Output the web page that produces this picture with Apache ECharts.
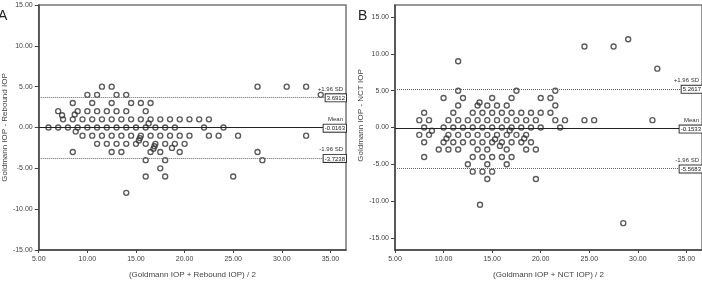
<!DOCTYPE html>
<html>
<head>
<meta charset="utf-8">
<script src="https://cdn.jsdelivr.net/npm/echarts@6/dist/echarts.min.js"></script>
<style>
html, body {margin: 0; padding: 0; background: #fff;}
#chart {width: 702px; height: 284px;}
</style>
</head>
<body>
<div id="chart"></div>
<script>
// Panel A: Goldmann vs Rebound, (mean of pair, difference)
const aMean = [
    11.5, 12.5, 27.5, 30.5, 32.5,
    10, 11, 13, 14, 34,
    8.5, 10.5, 12.5, 14.5, 15.5, 16.5,
    7, 9, 10, 11, 12, 13, 14, 16, 7.4, 8.7,
    7.5, 8.5, 9.5, 10.5, 11.5, 12.5, 13.5, 14.5, 15.5, 16.5, 17.5, 18.5, 19.5, 20.5, 21.5, 22.5, 16.3,
    6, 7, 8, 9, 10, 11, 12, 13, 14, 15, 16, 17, 18, 19, 22, 24, 8.8,
    9.5, 10.5, 11.5, 12.5, 13.5, 14.5, 15.5, 16.5, 17.5, 18.5, 19.5, 20.5, 22.5, 23.5, 25.5, 32.5,
    11, 12, 13, 14, 15, 16, 17, 18, 19, 20, 15.3, 15.4, 16.9, 16.8, 18.7,
    8.5, 12.5, 13.5, 16.5, 17.5, 19.5, 27.5,
    16, 18, 28,
    17.5,
    16, 18, 25,
    14
];
const aDiff = [
    5, 5, 5, 5, 5,
    4, 4, 4, 4, 4,
    3, 3, 3, 3, 3, 3,
    2, 2, 2, 2, 2, 2, 2, 2, 1.5, 1.6,
    1, 1, 1, 1, 1, 1, 1, 1, 1, 1, 1, 1, 1, 1, 1, 1, 0.5,
    0, 0, 0, 0, 0, 0, 0, 0, 0, 0, 0, 0, 0, 0, 0, 0, -0.5,
    -1, -1, -1, -1, -1, -1, -1, -1, -1, -1, -1, -1, -1, -1, -1, -1,
    -2, -2, -2, -2, -2, -2, -2, -2, -2, -2, -1.6, -1.3, -2.3, -2.6, -2.5,
    -3, -3, -3, -3, -3, -3, -3,
    -4, -4, -4,
    -5,
    -6, -6, -6,
    -8
];

// Panel B: Goldmann vs NCT
const bMean = [
    11.5, 24.5, 27.5, 29, 32,
    11.5, 17.5, 21.5,
    10, 12, 15, 17, 20, 21,
    11.5, 13.5, 14.5, 15.5, 16.5, 21.5, 13.7,
    8, 11, 13, 14, 15, 16, 17, 18, 19, 20, 21,
    7.5, 8.5, 10.5, 11.5, 12.5, 13.5, 14.5, 15.5, 16.5, 17.5, 18.5, 19.5, 21.5, 22.5, 24.5, 25.5, 31.5,
    8, 10, 11, 12, 13, 14, 15, 16, 17, 18, 19, 20, 22, 8.8, 16.8,
    7.5, 8.5, 10.5, 11.5, 12.5, 13.5, 14.5, 15.5, 16.5, 17.5, 18.5, 10.3, 15.3, 18.3,
    8, 10, 11, 12, 13, 14, 15, 16, 17, 18, 19, 15.8,
    9.5, 10.5, 11.5, 13.5, 14.5, 16.5, 18.5, 19.5,
    8, 13, 14, 15, 16, 17,
    12.5, 14.5, 16.5,
    13, 14, 15,
    14.5, 19.5,
    13.75, 28.5
];
const bDiff = [
    9, 11, 11, 12, 8,
    5, 5, 5,
    4, 4, 4, 4, 4, 4,
    3, 3, 3, 3, 3, 3, 3.4,
    2, 2, 2, 2, 2, 2, 2, 2, 2, 2, 2,
    1, 1, 1, 1, 1, 1, 1, 1, 1, 1, 1, 1, 1, 1, 1, 1, 1,
    0, 0, 0, 0, 0, 0, 0, 0, 0, 0, 0, 0, 0, -0.45, -0.4,
    -1, -1, -1, -1, -1, -1, -1, -1, -1, -1, -1, -1.5, -1.6, -1.5,
    -2, -2, -2, -2, -2, -2, -2, -2, -2, -2, -2, -2.5,
    -3, -3, -3, -3, -3, -3, -3, -3,
    -4, -4, -4, -4, -4, -4,
    -5, -5, -5,
    -6, -6, -6,
    -7, -7,
    -10.5, -13
];

const limitNames = ['+1.96 SD', 'Mean', '-1.96 SD'];
const aLimits = [3.6912, -0.0163, -3.7238];
const bLimits = [5.2617, -0.1533, -5.5683];
const xTicks = [5, 10, 15, 20, 25, 30, 35];
const yTicks = [-15, -10, -5, 0, 5, 10, 15];

const ink = '#444';
const fmt = v => v.toFixed(2);
const pairs = (xs, ys) => xs.map((x, i) => [x, ys[i]]);

const makeX = (gridIndex, name) => ({
    gridIndex, type: 'value', min: 5, max: 36.6,
    name, nameLocation: 'middle', nameGap: 21,
    nameTextStyle: {fontSize: 8, color: ink},
    axisLine: {show: true, onZero: false, lineStyle: {color: ink, width: 1.5}},
    axisTick: {show: true, length: 3, customValues: xTicks, lineStyle: {color: ink}},
    axisLabel: {customValues: xTicks, formatter: fmt, fontSize: 7, color: ink, margin: 6},
    splitLine: {show: false}
});

const makeY = (gridIndex, name, lim, gap, pad) => ({
    gridIndex, type: 'value', min: -lim, max: lim,
    name, nameLocation: 'middle', nameGap: gap,
    nameTextStyle: {fontSize: 8, color: ink, padding: pad},
    axisLine: {show: true, onZero: false, lineStyle: {color: ink, width: 1.5}},
    axisTick: {show: true, length: 4, customValues: yTicks, lineStyle: {color: ink}},
    axisLabel: {customValues: yTicks, formatter: fmt, fontSize: 7, color: ink, margin: 6},
    splitLine: {show: false}
});

const limitLines = vals => ({
    silent: true,
    animation: false,
    symbol: ['none', 'none'],
    label: {
        show: true,
        position: 'insideEndTop',
        distance: [0, -4],
        rich: {
            t: {fontSize: 6, color: '#333', lineHeight: 11, align: 'right', padding: [0, 3, 0, 0]},
            b: {fontSize: 6, color: '#222', lineHeight: 7, align: 'right',
                borderColor: '#333', borderWidth: 1, padding: [1, 1, 0, 1], backgroundColor: '#fff'}
        }
    },
    data: vals.map((v, i) => ({
        yAxis: v,
        lineStyle: i === 1
            ? {type: 'solid', color: '#222', width: 1.2}
            : {type: 'dotted', color: '#666', width: 1},
        label: {formatter: '{t|' + limitNames[i] + '}\n{b|' + v.toFixed(4) + '}'}
    }))
});

const dots = (i, data, vals) => ({
    type: 'scatter',
    xAxisIndex: i, yAxisIndex: i,
    data,
    symbol: 'circle',
    symbolSize: 5,
    itemStyle: {color: 'rgba(0,0,0,0)', borderColor: '#333', borderWidth: 1.4},
    markLine: limitLines(vals),
    animation: false
});

const chart = echarts.init(document.getElementById('chart'));
chart.setOption({
    animation: false,
    textStyle: {fontFamily: 'Liberation Sans, Arial, sans-serif'},
    grid: [
        {left: 36, top: 5, width: 310, height: 250, show: true, borderColor: '#777', borderWidth: 1.5},
        {left: 395, top: 5, width: 310, height: 250, show: true, borderColor: '#777', borderWidth: 1.5}
    ],
    xAxis: [
        makeX(0, '(Goldmann IOP + Rebound IOP) / 2'),
        makeX(1, '(Goldmann IOP + NCT IOP) / 2')
    ],
    yAxis: [
        makeY(0, 'Goldmann IOP - Rebound IOP', 15, 18, 0),
        makeY(1, 'Goldmann IOP - NCT IOP', 16.65, 21, [0, 0, 0, 24])
    ],
    series: [
        dots(0, pairs(aMean, aDiff), aLimits),
        dots(1, pairs(bMean, bDiff), bLimits)
    ],
    graphic: [
        {type: 'text', x: -2, y: 9, style: {text: 'A', fontSize: 14, fill: '#222', fontFamily: 'Liberation Sans'}},
        {type: 'text', x: 358, y: 9, style: {text: 'B', fontSize: 14, fill: '#222', fontFamily: 'Liberation Sans'}}
    ]
});
</script>
</body>
</html>
